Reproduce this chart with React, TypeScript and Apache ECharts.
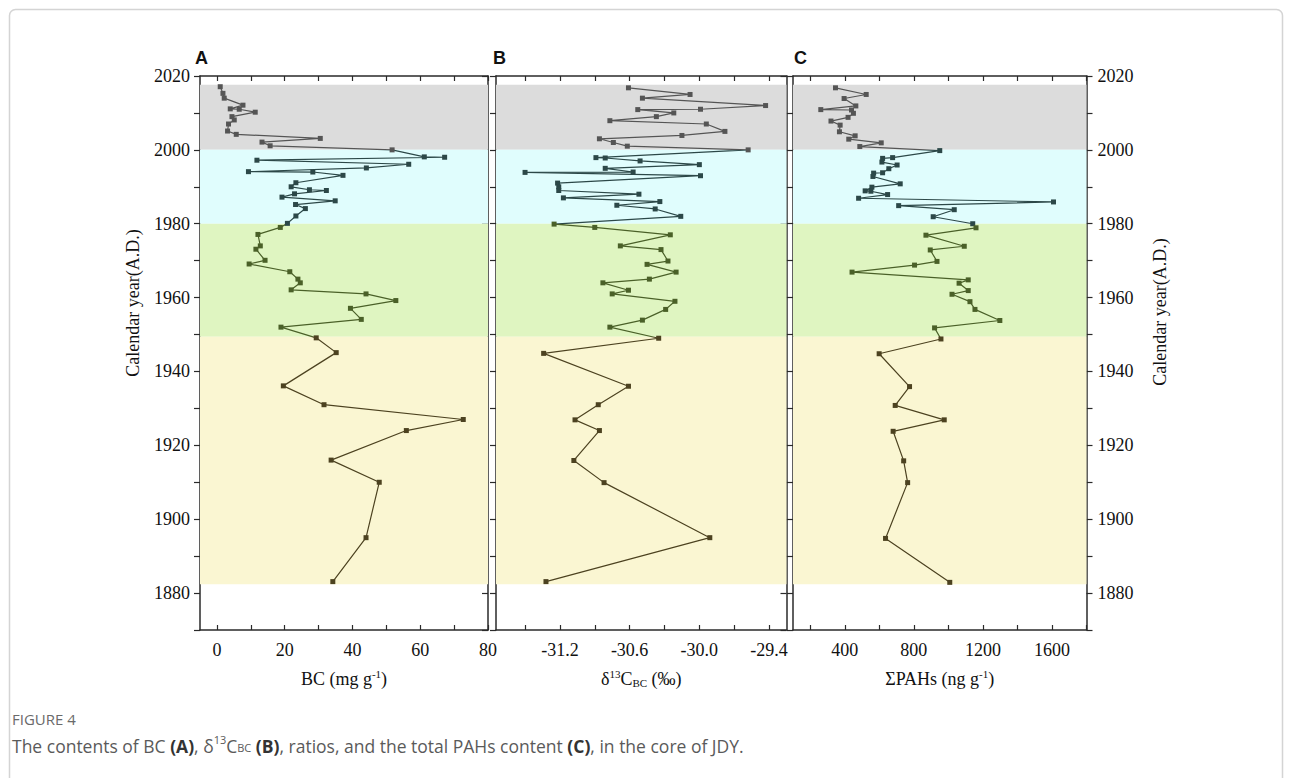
import React, { useEffect, useRef } from "react";
import * as echarts from "echarts";

const bcYears = [2017.1, 2015.3, 2014.0, 2012.1, 2011.1, 2011.0, 2010.2, 2009.0, 2008.1, 2007.0, 2005.1, 2004.2, 2003.1, 2002.1, 2001.1, 2000.0, 1998.1, 1998.0, 1997.2, 1996.1, 1995.1, 1994.1, 1994.0, 1993.1, 1991.1, 1990.0, 1989.2, 1989.0, 1988.1, 1987.2, 1986.2, 1985.2, 1984.1, 1982.1, 1980.1, 1979.0, 1977.1, 1974.0, 1973.1, 1970.1, 1969.1, 1967.0, 1965.0, 1964.0, 1962.1, 1961.0, 1959.2, 1957.1, 1954.1, 1952.0, 1949.1, 1945.1, 1936.1, 1931.0, 1927.0, 1924.0, 1916.0, 1910.0, 1895.0, 1883.1];
const bcValues = [0.97, 1.77, 2.15, 7.68, 3.93, 6.58, 11.3, 4.43, 5.11, 3.42, 3.13, 5.7, 30.5, 13.3, 15.7, 51.7, 61.2, 67.2, 11.8, 56.6, 44.1, 9.3, 28.3, 37.2, 23.3, 21.9, 27.3, 32.3, 22.9, 19.2, 34.9, 23.2, 26.1, 23.3, 20.8, 18.7, 12.1, 12.8, 11.5, 14.2, 9.5, 21.5, 23.9, 24.6, 21.9, 44.0, 52.8, 39.4, 42.6, 18.9, 29.3, 35.2, 19.6, 31.6, 72.7, 55.9, 33.7, 47.9, 44.0, 34.2];

const d13Years = [2016.8, 2015.0, 2014.0, 2012.0, 2011.0, 2010.9, 2010.0, 2009.0, 2007.9, 2007.0, 2005.0, 2003.9, 2003.0, 2002.0, 2001.0, 2000.0, 1997.9, 1997.8, 1997.0, 1996.0, 1995.0, 1994.0, 1993.9, 1993.0, 1991.0, 1990.0, 1989.0, 1988.0, 1987.0, 1986.0, 1985.0, 1984.0, 1982.0, 1979.9, 1979.0, 1977.0, 1974.0, 1973.0, 1969.9, 1969.0, 1966.9, 1965.0, 1964.0, 1962.0, 1961.0, 1959.0, 1956.8, 1953.9, 1952.0, 1949.0, 1944.9, 1936.0, 1931.0, 1926.9, 1924.0, 1915.9, 1909.9, 1895.0, 1883.1];
const d13Values = [-30.61, -30.08, -30.49, -29.43, -29.99, -30.53, -30.22, -30.37, -30.77, -29.94, -29.78, -30.15, -30.86, -30.74, -30.62, -29.58, -30.89, -30.81, -30.51, -30.0, -30.81, -30.57, -31.5, -29.99, -31.22, -31.21, -31.21, -30.52, -31.17, -30.34, -30.71, -30.38, -30.16, -31.25, -30.9, -30.25, -30.68, -30.33, -30.27, -30.45, -30.2, -30.43, -30.83, -30.61, -30.75, -30.21, -30.29, -30.49, -30.77, -30.35, -31.34, -30.61, -30.87, -31.07, -30.86, -31.08, -30.82, -29.91, -31.32];

const pahYears = [2016.8, 2015.0, 2013.9, 2011.9, 2010.9, 2010.8, 2009.9, 2008.8, 2007.8, 2006.7, 2004.9, 2003.8, 2002.9, 2001.9, 2000.9, 1999.8, 1997.9, 1997.7, 1996.7, 1995.9, 1994.9, 1993.8, 1993.7, 1992.8, 1990.8, 1989.9, 1988.9, 1988.8, 1987.9, 1986.9, 1985.9, 1984.9, 1983.8, 1981.9, 1980.0, 1978.9, 1976.9, 1973.9, 1972.9, 1969.8, 1968.8, 1966.9, 1964.8, 1963.9, 1961.9, 1960.9, 1958.9, 1956.8, 1953.8, 1951.8, 1948.8, 1944.8, 1935.9, 1930.8, 1926.9, 1923.8, 1915.8, 1909.9, 1894.8, 1882.9];
const pahValues = [346, 524, 396, 464, 261, 439, 450, 419, 320, 373, 369, 460, 423, 611, 487, 950, 677, 619, 615, 703, 655, 619, 567, 563, 721, 557, 518, 551, 648, 480, 1609, 712, 1034, 912, 1141, 1160, 870, 1092, 895, 934, 804, 442, 1115, 1062, 1115, 1021, 1125, 1154, 1298, 920, 957, 599, 775, 692, 976, 680, 741, 764, 636, 1008];

// period bands [from, to]
const bandRanges = [
  [2000, 2017.6],
  [1980, 2000],
  [1949.4, 1980],
  [1882.4, 1949.4],
];
const bandColors = ["#dcdcdc", "#e0fdfd", "#dff5c1", "#faf6d2"];
const markColors = ["#555555", "#2c4848", "#4a6028", "#4c4220"];

const bcTicks = [0, 10, 20, 30, 40, 50, 60, 70, 80];
const bcLabels = [0, 20, 40, 60, 80];
const d13Ticks = [-31.5, -31.2, -30.9, -30.6, -30.3, -30.0, -29.7, -29.4];
const d13Labels = [-31.2, -30.6, -30.0, -29.4];
const pahTicks = [200, 400, 600, 800, 1000, 1200, 1400, 1600, 1800];
const pahLabels = [400, 800, 1200, 1600];

const SERIF = "'Liberation Serif', 'Times New Roman', serif";
const SANS = "'Liberation Sans', Arial, sans-serif";
const CAP = "'Open Sans', 'Noto Sans', sans-serif";
const AXIS_COLOR = "#2a2a2a";

export default function App() {
  const ref = useRef<HTMLDivElement>(null);

  useEffect(() => {
    if (!ref.current) return;
    const chart = echarts.init(ref.current, undefined, { renderer: "svg" });

    const grids = [
      { left: 200, top: 76, width: 288, height: 554 },
      { left: 496, top: 76, width: 290.5, height: 554 },
      { left: 793, top: 76, width: 293.5, height: 554 },
    ];

    const richName = {
      n: { fontSize: 18, fontFamily: SERIF, color: "#111", lineHeight: 22, verticalAlign: "bottom" },
      sup: { fontSize: 11, fontFamily: SERIF, color: "#111", lineHeight: 11, padding: [0, 0, 9, 0], verticalAlign: "bottom" },
      sub: { fontSize: 11, fontFamily: SERIF, color: "#111", lineHeight: 11, verticalAlign: "bottom" },
    };

    const xDefs = [
      { min: -5, max: 80, ticks: bcTicks, labels: bcLabels, name: "{n|BC (mg g}{sup|-1}{n|)}", fmt: (v: number) => String(v) },
      { min: -31.75, max: -29.25, ticks: d13Ticks, labels: d13Labels, name: "{n|δ}{sup|13}{n|C}{sub|BC}{n| (‰)}", fmt: (v: number) => v.toFixed(1) },
      { min: 100, max: 1800, ticks: pahTicks, labels: pahLabels, name: "{n|ΣPAHs (ng g}{sup|-1}{n|)}", fmt: (v: number) => String(v) },
    ];

    const xAxis: any[] = [];
    xDefs.forEach((d, i) => {
      xAxis.push({
        type: "value",
        gridIndex: i,
        position: "bottom",
        min: d.min,
        max: d.max,
        name: d.name,
        nameLocation: "middle",
        nameGap: 36,
        nameTextStyle: { rich: richName },
        axisLine: { show: true, onZero: false, lineStyle: { color: AXIS_COLOR, width: 1.5 } },
        axisTick: { show: true, inside: true, length: 5, customValues: d.ticks, lineStyle: { color: AXIS_COLOR, width: 1.2 } },
        axisLabel: {
          show: true,
          customValues: d.labels,
          formatter: d.fmt,
          fontFamily: SERIF,
          fontSize: 18,
          color: "#111",
          margin: 11,
        },
        splitLine: { show: false },
      });
    });
    xDefs.forEach((d, i) => {
      xAxis.push({
        type: "value",
        gridIndex: i,
        position: "top",
        min: d.min,
        max: d.max,
        axisLine: { show: true, onZero: false, lineStyle: { color: AXIS_COLOR, width: 1.5 } },
        axisTick: { show: true, inside: true, length: 5, customValues: d.ticks, lineStyle: { color: AXIS_COLOR, width: 1.2 } },
        axisLabel: { show: false },
        splitLine: { show: false },
      });
    });

    const yLabelFmt = (v: number) => (v % 20 === 0 ? String(v) : "");
    const yBase = {
      type: "value",
      min: 1870,
      max: 2020,
      interval: 10,
      splitLine: { show: false },
    };
    const yAxis: any[] = [];
    for (let i = 0; i < 3; i++) {
      yAxis.push({
        ...yBase,
        gridIndex: i,
        position: "left",
        axisLine: { show: true, onZero: false, lineStyle: { color: AXIS_COLOR, width: 1.5 } },
        axisTick: { show: true, inside: false, length: 6, lineStyle: { color: AXIS_COLOR, width: 1.2 } },
        axisLabel: {
          show: i === 0,
          formatter: yLabelFmt,
          fontFamily: SERIF,
          fontSize: 18,
          color: "#111",
          margin: 10,
        },
      });
    }
    for (let i = 0; i < 3; i++) {
      yAxis.push({
        ...yBase,
        gridIndex: i,
        position: "right",
        axisLine: { show: true, onZero: false, lineStyle: { color: AXIS_COLOR, width: 1.5 } },
        axisTick: { show: true, inside: i !== 2, length: 6, lineStyle: { color: AXIS_COLOR, width: 1.2 } },
        axisLabel: {
          show: i === 2,
          formatter: yLabelFmt,
          fontFamily: SERIF,
          fontSize: 18,
          color: "#111",
          margin: 11,
        },
      });
    }

    const bandData = bandRanges.map((r, k) => [
      { yAxis: r[0], itemStyle: { color: bandColors[k] } },
      { yAxis: r[1] },
    ]);

    const makeSeries = (i: number, xs: number[], ys: number[]) => ({
      type: "line",
      xAxisIndex: i,
      yAxisIndex: i,
      data: xs.map((x, k) => [x, ys[k]]),
      symbol: "rect",
      symbolSize: 5,
      showSymbol: true,
      lineStyle: { width: 1.2 },
      markArea: {
        silent: true,
        itemStyle: { opacity: 1 },
        data: bandData,
      },
      z: 3,
    });

    const capText = { fontSize: 17.5, fontFamily: CAP, fill: "#5a5a5a", lineHeight: 22, verticalAlign: "bottom" };
    const yTitleStyle = {
      text: "Calendar year(A.D.)",
      font: `18px ${SERIF}`,
      fill: "#111",
      align: "center",
      verticalAlign: "middle",
    };

    const option: any = {
      animation: false,
      backgroundColor: "#ffffff",
      grid: grids.map((g) => ({ ...g, containLabel: false })),
      xAxis,
      yAxis,
      visualMap: {
        type: "piecewise",
        show: false,
        dimension: 1,
        seriesIndex: [0, 1, 2],
        pieces: [
          { gte: 2000, color: markColors[0] },
          { gte: 1980, lt: 2000, color: markColors[1] },
          { gte: 1949.4, lt: 1980, color: markColors[2] },
          { lt: 1949.4, color: markColors[3] },
        ],
      },
      series: [
        makeSeries(0, bcValues, bcYears),
        makeSeries(1, d13Values, d13Years),
        makeSeries(2, pahValues, pahYears),
      ],
      graphic: [
        {
          type: "rect",
          shape: { x: 9.5, y: 9.5, width: 1273, height: 800, r: 6 },
          style: { fill: "none", stroke: "#d4d4d4", lineWidth: 1.5 },
          silent: true,
          z: -10,
        },
        { type: "text", x: 133, y: 303, rotation: Math.PI / 2, style: yTitleStyle },
        { type: "text", x: 1160, y: 312, rotation: Math.PI / 2, style: yTitleStyle },
        { type: "text", left: 195, top: 49, style: { text: "A", font: `bold 18px ${SANS}`, fill: "#111" } },
        { type: "text", left: 493, top: 49, style: { text: "B", font: `bold 18px ${SANS}`, fill: "#111" } },
        { type: "text", left: 794, top: 49, style: { text: "C", font: `bold 18px ${SANS}`, fill: "#111" } },
        {
          type: "text",
          left: 12,
          top: 711,
          style: { text: "FIGURE 4", font: `15px ${CAP}`, fill: "#6a6a6a" },
        },
        {
          type: "text",
          left: 12,
          top: 734,
          style: {
            text: "{t|The contents of BC }{b|(A)}{t|, δ}{sp|13}{t|C}{sb|BC}{t| }{b|(B)}{t|, ratios, and the total PAHs content }{b|(C)}{t|, in the core of JDY.}",
            rich: {
              t: capText,
              b: { ...capText, fontWeight: "bold", fill: "#333" },
              sp: { fontSize: 11, fontFamily: CAP, fill: "#5a5a5a", lineHeight: 11, padding: [0, 0, 10, 0], verticalAlign: "bottom" },
              sb: { fontSize: 11, fontFamily: CAP, fill: "#5a5a5a", lineHeight: 11, padding: [0, 0, 2, 0], verticalAlign: "bottom" },
            },
          },
        },
      ],
    };

    chart.setOption(option);
    return () => chart.dispose();
  }, []);

  return (
    <div
      ref={ref}
      style={{ position: "absolute", left: 0, top: 0, width: 1292, height: 778 }}
    />
  );
}
